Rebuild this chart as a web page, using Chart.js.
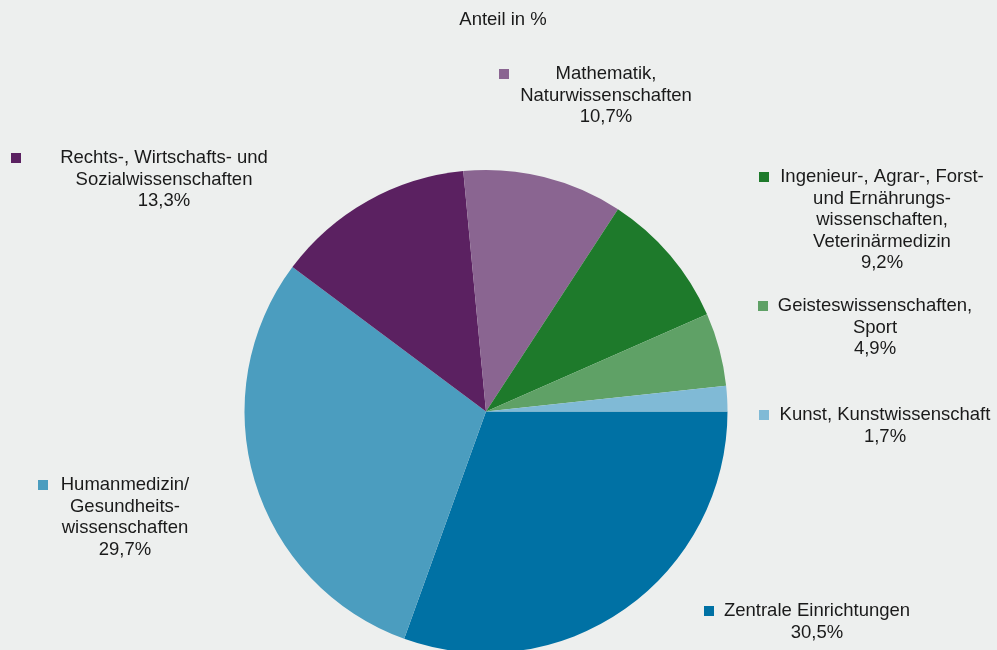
<!DOCTYPE html>
<html>
<head>
<meta charset="utf-8">
<script src="https://cdn.jsdelivr.net/npm/chart.js@4"></script>
<style>
  html, body { margin:0; padding:0; background:#edefee; overflow:hidden; width:997px; height:650px; }
  canvas { display:block; }
</style>
</head>
<body>
<canvas id="chart" width="997" height="700"></canvas>
<script>
// Daten – Anteil in %
const kategorien = [
  ['Zentrale Einrichtungen'],
  ['Humanmedizin/', 'Gesundheits-', 'wissenschaften'],
  ['Rechts-, Wirtschafts- und', 'Sozialwissenschaften'],
  ['Mathematik,', 'Naturwissenschaften'],
  ['Ingenieur-, Agrar-, Forst-', 'und Ernährungs-', 'wissenschaften,', 'Veterinärmedizin'],
  ['Geisteswissenschaften,', 'Sport'],
  ['Kunst, Kunstwissenschaft']
];
const anteile = [30.5, 29.7, 13.3, 10.7, 9.2, 4.9, 1.7];
const farben = ['#0071a4', '#4b9dbf', '#5b2161', '#8a6591', '#1e7a2b', '#5fa166', '#80bad6'];

// Beschriftungen: Textmitte x, erste Zeile y, Quadrat x
const labelPos = [
  { x: 817, y: 611, sq: 709 },
  { x: 125, y: 485, sq: 43 },
  { x: 164, y: 158, sq: 16 },
  { x: 606, y: 74,  sq: 504 },
  { x: 882, y: 177, sq: 764 },
  { x: 875, y: 306, sq: 763 },
  { x: 885, y: 415, sq: 764 }
];

const fmt = v => v.toFixed(1).replace('.', ',') + '%';

const beschriftung = {
  id: 'beschriftung',
  afterDraw(chart) {
    const ctx = chart.ctx;
    ctx.save();
    ctx.font = '18.5px "Liberation Sans", Arial, sans-serif';
    ctx.fillStyle = '#1a1a1a';
    ctx.textAlign = 'center';
    ctx.textBaseline = 'middle';
    ctx.fillText('Anteil in %', 503, 20);

    kategorien.forEach((zeilen, i) => {
      const p = labelPos[i];
      const alle = zeilen.concat([fmt(anteile[i])]);
      ctx.fillStyle = '#1a1a1a';
      alle.forEach((t, j) => ctx.fillText(t, p.x, p.y + j * 21.5));
      ctx.fillStyle = farben[i];
      ctx.fillRect(p.sq - 5, p.y - 5, 10, 10);
    });
    ctx.restore();
  }
};

new Chart(document.getElementById('chart'), {
  type: 'pie',
  data: {
    labels: kategorien,
    datasets: [{
      data: anteile,
      backgroundColor: farben,
      borderWidth: 0,
      hoverOffset: 0
    }]
  },
  options: {
    responsive: false,
    animation: false,
    rotation: 90,
    layout: { padding: { left: 244, right: 269, top: 170, bottom: 47 } },
    plugins: {
      legend: { display: false },
      tooltip: { enabled: false },
      title: { display: false }
    }
  },
  plugins: [beschriftung]
});
</script>
</body>
</html>
